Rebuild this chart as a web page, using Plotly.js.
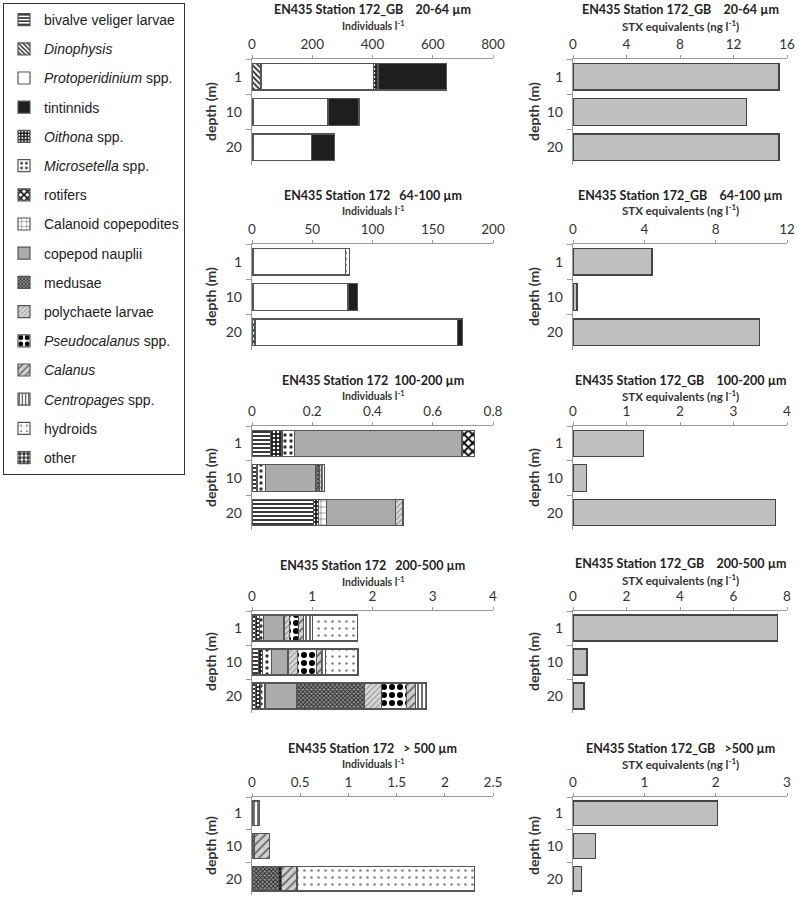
<!DOCTYPE html>
<html><head><meta charset="utf-8">
<script src="https://cdn.plot.ly/plotly-3.0.1.min.js"></script>
<style>body{margin:0;background:#fff}#chart{width:799px;height:900px}</style>
</head><body><div id="chart"></div>
<script>
const depths = ['1', '10', '20'];

const speciesKeys = ['bivalve', 'Dinophysis', 'Protoperidinium', 'tintinnids', 'Oithona', 'Microsetella', 'rotifers', 'Calanoid', 'nauplii', 'medusae', 'polychaete', 'Pseudocalanus', 'Calanus', 'Centropages', 'hydroids', 'other'];
const speciesLabels = ['bivalve veliger larvae', '<i>Dinophysis</i>', '<i>Protoperidinium</i> spp.', 'tintinnids', '<i>Oithona</i> spp.', '<i>Microsetella</i> spp.', 'rotifers', 'Calanoid copepodites', 'copepod nauplii', 'medusae', 'polychaete larvae', '<i>Pseudocalanus</i> spp.', '<i>Calanus</i>', '<i>Centropages</i> spp.', 'hydroids', 'other'];

// Individuals per litre, depths 1, 10, 20 m
const ind20_64_species = ['Dinophysis', 'Protoperidinium', 'Oithona', 'tintinnids', 'rotifers', 'other'];
const ind20_64_values = [[30, 5, 3], [374, 247, 194], [14, 0, 0], [227, 103, 77], [0, 0, 0], [0, 0, 0]];

const ind64_100_species = ['Dinophysis', 'Protoperidinium', 'Microsetella', 'tintinnids'];
const ind64_100_values = [[1.5, 0.8, 2.5], [76, 78.9, 167.9], [3.3, 0, 0], [0, 7.6, 4.2]];

const ind100_200_species = ['bivalve', 'Oithona', 'Microsetella', 'Calanoid', 'nauplii', 'medusae', 'polychaete', 'Centropages', 'rotifers'];
const ind100_200_values = [[0.061, 0.014, 0.205], [0.0386, 0.004, 0.016], [0.041, 0.026, 0], [0, 0, 0.026], [0.5565, 0.166, 0.229], [0, 0.014, 0], [0, 0.008, 0.025], [0, 0.009, 0], [0.042, 0, 0]];

const ind200_500_species = ['bivalve', 'Oithona', 'Microsetella', 'nauplii', 'medusae', 'polychaete', 'Pseudocalanus', 'Calanus', 'Centropages', 'hydroids'];
const ind200_500_values = [[0.054, 0.108, 0.054], [0.071, 0.071, 0.092], [0.065, 0.146, 0.071], [0.341, 0.271, 0.515], [0, 0, 1.138], [0.092, 0.163, 0.282], [0.147, 0.309, 0.412], [0.086, 0.086, 0.146], [0.147, 0.066, 0.19], [0.747, 0.54, 0]];

const ind500_species = ['medusae', 'Oithona', 'Calanus', 'Centropages', 'hydroids'];
const ind500_values = [[0, 0.024, 0.276], [0, 0, 0.034], [0, 0.159, 0.156], [0.079, 0, 0], [0, 0, 1.844]];

// STX equivalents (ng per litre), depths 1, 10, 20 m
const stx20_64 = [15.4, 12.97, 15.4];
const stx64_100 = [4.43, 0.22, 10.47];
const stx100_200 = [1.32, 0.25, 3.79];
const stx200_500 = [7.63, 0.52, 0.41];
const stx500 = [2.03, 0.31, 0.12];

const leftTitles = ['EN435 Station 172_GB\u00a0\u00a0\u00a0\u00a020-64 µm', 'EN435 Station 172\u00a0\u00a0\u00a064-100 µm', 'EN435 Station 172\u00a0\u00a0100-200 µm', 'EN435 Station 172\u00a0\u00a0\u00a0200-500 µm', 'EN435 Station 172\u00a0\u00a0\u00a0> 500 µm'];
const rightTitles = ['EN435 Station 172_GB\u00a0\u00a0\u00a0\u00a020-64 µm', 'EN435 Station 172_GB\u00a0\u00a0\u00a0\u00a064-100 µm', 'EN435 Station 172_GB\u00a0\u00a0\u00a0\u00a0100-200 µm', 'EN435 Station 172_GB\u00a0\u00a0\u00a0\u00a0200-500 µm', 'EN435 Station 172_GB\u00a0\u00a0\u00a0>500 µm'];
const leftRanges = [[0, 800], [0, 200], [0, 0.8], [0, 4], [0, 2.5]];
const leftDticks = [200, 50, 0.2, 1, 0.5];
const rightRanges = [[0, 16], [0, 12], [0, 4], [0, 8], [0, 3]];
const rightDticks = [4, 4, 1, 2, 1];

const styles = {
  bivalve: {color: '#fff', pattern: {shape: '-', bgcolor: '#fff', fgcolor: '#222', size: 4, solidity: 0.45}},
  Dinophysis: {color: '#fff', pattern: {shape: '\\', bgcolor: '#fff', fgcolor: '#222', size: 4, solidity: 0.45}},
  Protoperidinium: {color: '#ffffff'},
  tintinnids: {color: '#1e1e1e'},
  Oithona: {color: '#1e1e1e', pattern: {shape: '.', bgcolor: '#1e1e1e', fgcolor: '#fff', size: 4, solidity: 0.3}},
  Microsetella: {color: '#fff', pattern: {shape: '.', bgcolor: '#fff', fgcolor: '#333', size: 6, solidity: 0.25}},
  rotifers: {color: '#fff', pattern: {shape: 'x', bgcolor: '#fff', fgcolor: '#111', size: 6, solidity: 0.55}},
  Calanoid: {color: '#fff', pattern: {shape: '+', bgcolor: '#fff', fgcolor: '#333', size: 6, solidity: 0.15}},
  nauplii: {color: '#ababab'},
  medusae: {color: '#777', pattern: {shape: 'x', bgcolor: '#999', fgcolor: '#222', size: 3, solidity: 0.5}},
  polychaete: {color: '#d4d4d4', pattern: {shape: '/', bgcolor: '#dadada', fgcolor: '#999', size: 4, solidity: 0.3}},
  Pseudocalanus: {color: '#fff', pattern: {shape: '.', bgcolor: '#fff', fgcolor: '#000', size: 8, solidity: 0.45}},
  Calanus: {color: '#ccc', pattern: {shape: '/', bgcolor: '#d0d0d0', fgcolor: '#666', size: 6, solidity: 0.3}},
  Centropages: {color: '#fff', pattern: {shape: '|', bgcolor: '#fff', fgcolor: '#333', size: 4, solidity: 0.35}},
  hydroids: {color: '#fff', pattern: {shape: '.', bgcolor: '#fff', fgcolor: '#888', size: 7, solidity: 0.12}},
  other: {color: '#222', pattern: {shape: '.', bgcolor: '#222', fgcolor: '#fff', size: 5, solidity: 0.5}}
};

const W = 799, H = 900;
const rows = [
  {top: 59, bot: 165, t: 10, s: 25, rt: 10, rs: 25},
  {top: 244, bot: 350, t: 195, s: 210, rt: 195, rs: 209},
  {top: 426, bot: 530, t: 380, s: 396, rt: 380, rs: 396},
  {top: 611, bot: 713, t: 565, s: 581, rt: 563, rs: 579},
  {top: 797, bot: 895, t: 748, s: 763, rt: 748, rs: 763}
];
const leftX = [252, 493], rightX = [573, 787];
const leftPanels = [
  [ind20_64_species, ind20_64_values], [ind64_100_species, ind64_100_values],
  [ind100_200_species, ind100_200_values], [ind200_500_species, ind200_500_values],
  [ind500_species, ind500_values]
];
const rightPanels = [stx20_64, stx64_100, stx100_200, stx200_500, stx500];

const FONT = 'Lato, "Liberation Sans", sans-serif';
const traces = [];
const shown = {};
function makeMarker(key) {
  const st = styles[key];
  const marker = {color: st.color, line: {color: '#555', width: 1.2}};
  if (st.pattern) marker.pattern = Object.assign({fillmode: 'replace'}, st.pattern);
  return marker;
}
leftPanels.forEach(([sp, vals], i) => {
  const ax = i + 1;
  sp.forEach((key, j) => {
    const idx = speciesKeys.indexOf(key);
    traces.push({
      type: 'bar', orientation: 'h', y: depths, x: vals[j],
      xaxis: 'x' + ax, yaxis: 'y' + ax,
      name: speciesLabels[idx], legendgroup: key, legendrank: (idx + 1) * 10,
      showlegend: !shown[key], marker: makeMarker(key), hoverinfo: 'x+name'
    });
    shown[key] = true;
  });
});
speciesKeys.forEach((key, idx) => {
  if (!shown[key]) {
    traces.push({type: 'bar', orientation: 'h', y: depths, x: [0, 0, 0], xaxis: 'x1', yaxis: 'y1',
      name: speciesLabels[idx], legendgroup: key, legendrank: (idx + 1) * 10, showlegend: true, marker: makeMarker(key)});
  }
});
rightPanels.forEach((vals, i) => {
  const ax = i + 6;
  traces.push({type: 'bar', orientation: 'h', y: depths, x: vals, xaxis: 'x' + ax, yaxis: 'y' + ax,
    showlegend: false, marker: {color: '#bfbfbf', line: {color: '#444', width: 1.2}}});
});

const layout = {
  width: W, height: H, margin: {l: 0, r: 0, t: 0, b: 0},
  paper_bgcolor: '#fff', plot_bgcolor: 'rgba(0,0,0,0)',
  barmode: 'stack', bargap: 0.24,
  font: {family: FONT, color: '#333', size: 14},
  showlegend: true,
  legend: {x: 3 / W, y: 1 - 3 / H, xanchor: 'left', yanchor: 'top', bgcolor: '#fff',
    bordercolor: '#333', borderwidth: 1, traceorder: 'grouped', tracegroupgap: 8,
    font: {family: '"Liberation Sans", Arial, sans-serif', size: 14, color: '#222'}},
  annotations: []
};

function yd(top, bot) { return [1 - bot / H, 1 - top / H]; }
for (let i = 0; i < 10; i++) {
  const isLeft = i < 5;
  const r = rows[i % 5];
  const xr = isLeft ? leftX : rightX;
  const ax = i + 1;
  const xa = {
    domain: [xr[0] / W, xr[1] / W], anchor: 'y' + ax, side: 'top',
    range: isLeft ? leftRanges[i] : rightRanges[i - 5], dtick: isLeft ? leftDticks[i] : rightDticks[i - 5], tick0: 0,
    showgrid: false, zeroline: false, showline: true, linecolor: '#999', linewidth: 1.2,
    ticks: 'outside', ticklen: 3, tickcolor: '#999', tickfont: {size: 13.5, color: '#333', family: FONT}, fixedrange: true
  };
  const ya = {
    domain: yd(r.top, r.bot), anchor: 'x' + ax, type: 'category', autorange: 'reversed',
    showgrid: false, zeroline: false, showline: true, linecolor: '#999', linewidth: 1.2,
    ticks: 'outside', ticklen: 5, tickcolor: '#999', tickson: 'boundaries', ticklabelstandoff: 6,
    tickfont: {size: 14, color: '#333', family: FONT}, fixedrange: true
  };
  layout['xaxis' + (ax === 1 ? '' : ax)] = xa;
  layout['yaxis' + (ax === 1 ? '' : ax)] = ya;
  const cx = (xr[0] + xr[1]) / 2 / W;
  const titleY = isLeft ? r.t : r.rt;
  const subY = isLeft ? r.s : r.rs;
  layout.annotations.push({xref: 'paper', yref: 'paper', x: cx, y: 1 - titleY / H, xanchor: 'center', yanchor: 'middle',
    text: '<b>' + (isLeft ? leftTitles[i] : rightTitles[i - 5]) + '</b>', showarrow: false,
    font: {size: 12.5, color: '#222', family: FONT}});
  layout.annotations.push({xref: 'paper', yref: 'paper', x: cx, y: 1 - subY / H, xanchor: 'center', yanchor: 'middle',
    text: '<b>' + (isLeft ? 'Individuals l<sup>-1</sup>' : 'STX equivalents (ng l<sup>-1</sup>)') + '</b>', showarrow: false,
    font: {size: isLeft ? 10.5 : 11.5, color: '#333', family: FONT}});
  layout.annotations.push({xref: 'paper', yref: 'paper', x: (isLeft ? 210 : 533) / W, y: 1 - (r.top + r.bot) / 2 / H,
    xanchor: 'center', yanchor: 'middle', textangle: -90, text: '<b>depth (m)</b>', showarrow: false,
    font: {size: 14, color: '#333', family: FONT}});
}

Plotly.newPlot('chart', traces, layout, {displayModeBar: false, staticPlot: true});
</script></body></html>
